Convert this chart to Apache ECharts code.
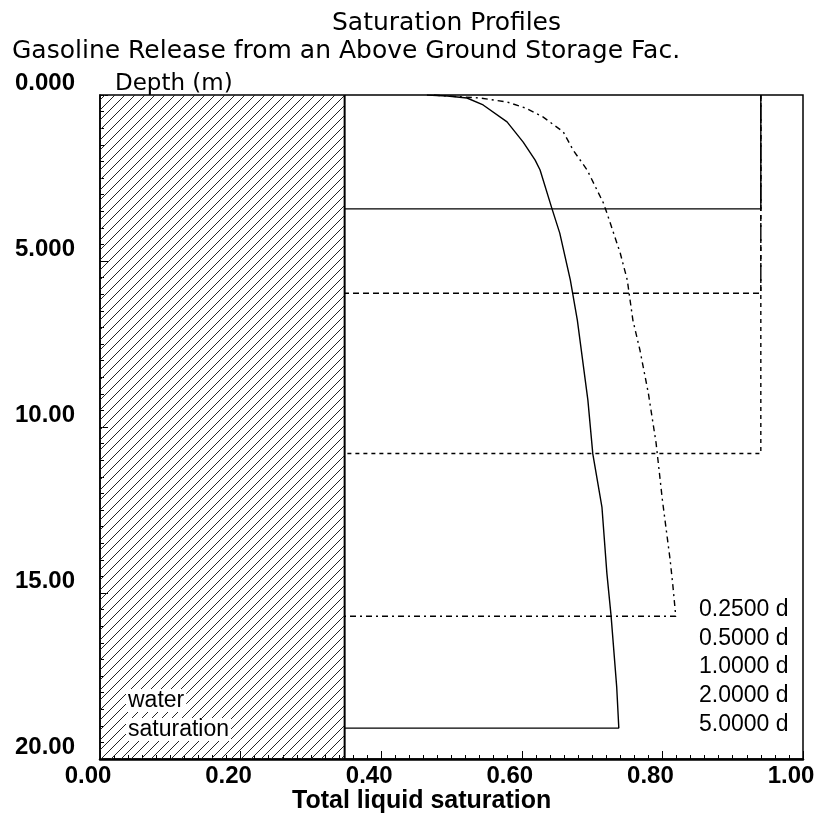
<!DOCTYPE html>
<html>
<head>
<meta charset="utf-8">
<title>Saturation Profiles</title>
<script src="https://cdn.jsdelivr.net/npm/echarts@6/dist/echarts.min.js"></script>
<style>
  html, body { margin: 0; padding: 0; background: #fff; }
  #chart { width: 821px; height: 821px; }
</style>
</head>
<body>
<div id="chart"></div>
<script>
// tick labels as printed on the plot
const xTickLabels = ['0.00', '0.20', '0.40', '0.60', '0.80', '1.00'];
const yTickLabels = ['0.000', '5.000', '10.00', '15.00', '20.00'];

const legendNames = ['0.2500 d', '0.5000 d', '1.0000 d', '2.0000 d', '5.0000 d'];

// residual water saturation (hatched part)
const waterSat = 0.348;

// profiles: total liquid saturation vs depth (m)
const sat025 = [0.94, 0.94, 0.348];
const dep025 = [0, 3.43, 3.43];

const sat050 = [0.94, 0.94, 0.348];
const dep050 = [0, 5.97, 5.97];

const sat100 = [0.94, 0.94, 0.348];
const dep100 = [0, 10.8, 10.8];

const sat200 = [0.475, 0.494, 0.54, 0.579, 0.605, 0.630, 0.659, 0.673, 0.693, 0.716, 0.721, 0.740, 0.750, 0.758, 0.768, 0.780, 0.791, 0.800, 0.811, 0.815, 0.819, 0.348];
const dep200 = [0, 0.03, 0.09, 0.21, 0.39, 0.66, 1.11, 1.66, 2.26, 3.25, 3.55, 4.76, 5.57, 6.78, 7.68, 8.98, 10.48, 12.2, 14.0, 14.8, 15.7, 15.7];

const sat500 = [0.465, 0.494, 0.522, 0.545, 0.579, 0.602, 0.619, 0.626, 0.643, 0.654, 0.669, 0.679, 0.694, 0.701, 0.714, 0.721, 0.727, 0.735, 0.738, 0.348];
const dep500 = [0, 0.03, 0.09, 0.30, 0.81, 1.42, 1.96, 2.26, 3.43, 4.16, 5.57, 6.78, 9.19, 10.81, 12.41, 14.40, 15.69, 17.83, 19.07, 19.07];

const zip = (xs, ys) => xs.map((x, i) => [x, ys[i]]);

// hatch pattern for the water saturation block
const hatch = document.createElement('canvas');
hatch.width = 10;
hatch.height = 10;
const hc = hatch.getContext('2d');
hc.strokeStyle = '#222';
hc.lineWidth = 1;
hc.beginPath();
hc.moveTo(-1, 11);
hc.lineTo(11, -1);
hc.stroke();

const plainFont = 'DejaVu Sans';
const boldFont = 'Liberation Sans';

const myChart = echarts.init(document.getElementById('chart'));

const lineSeries = (name, data, dash) => ({
    name: name,
    type: 'line',
    data: data,
    showSymbol: false,
    symbol: 'none',
    smooth: false,
    silent: true,
    z: 4,
    lineStyle: { color: '#000', width: 1.4, type: dash },
    itemStyle: { color: '#000' }
});

const option = {
    animation: false,
    backgroundColor: '#fff',
    title: [
        { text: 'Saturation Profiles', left: 332, top: 11, padding: 0,
          textStyle: { fontFamily: plainFont, fontSize: 25, fontWeight: 'normal', color: '#000' } },
        { text: 'Gasoline Release from an Above Ground Storage Fac.', left: 12, top: 39, padding: 0,
          textStyle: { fontFamily: plainFont, fontSize: 25, fontWeight: 'normal', color: '#000' } },
        { text: 'Depth (m)', left: 115, top: 73, padding: 0,
          textStyle: { fontFamily: plainFont, fontSize: 23, fontWeight: 'normal', color: '#000' } },
        { text: 'Total liquid saturation', left: 292, top: 789, padding: 0,
          textStyle: { fontFamily: boldFont, fontSize: 25, fontWeight: 'bold', color: '#000' } },
        { text: 'water', left: 126, top: 689, padding: [0, 2], backgroundColor: '#fff', z: 10,
          textStyle: { fontFamily: boldFont, fontSize: 23, fontWeight: 'normal', color: '#000' } },
        { text: 'saturation', left: 126, top: 718, padding: [0, 2], backgroundColor: '#fff', z: 10,
          textStyle: { fontFamily: boldFont, fontSize: 23, fontWeight: 'normal', color: '#000' } }
    ],
    legend: {
        data: legendNames,
        orient: 'vertical',
        left: 689,
        top: 593,
        icon: 'none',
        itemWidth: 0,
        itemHeight: 20,
        itemGap: 5.7,
        selectedMode: false,
        textStyle: { fontFamily: boldFont, fontSize: 23, color: '#000' }
    },
    grid: {
        left: 100,
        right: 18,
        top: 95,
        bottom: 62,
        outerBoundsMode: 'none',
        containLabel: false,
        show: true,
        borderColor: '#000',
        borderWidth: 1.5
    },
    xAxis: {
        type: 'value',
        position: 'bottom',
        min: 0,
        max: 1,
        interval: 0.2,
        axisLine: { show: true, onZero: false, lineStyle: { color: '#000', width: 2.5 } },
        axisTick: { show: true, inside: true, length: 8, lineStyle: { color: '#000' } },
        minorTick: { show: true, splitNumber: 10, length: 4, lineStyle: { color: '#000' } },
        splitLine: { show: false },
        axisLabel: {
            margin: 5,
            padding: [0, 24, 0, 0],
            color: '#000',
            fontFamily: boldFont,
            fontSize: 24,
            fontWeight: 'bold',
            formatter: function (v) {
                return xTickLabels[Math.round(v / 0.2)];
            }
        }
    },
    yAxis: {
        type: 'value',
        position: 'left',
        inverse: true,
        min: 0,
        max: 20,
        interval: 5,
        axisLine: { show: true, onZero: false, lineStyle: { color: '#000', width: 1.5 } },
        axisTick: { show: true, inside: true, length: 8, lineStyle: { color: '#000' } },
        minorTick: { show: true, splitNumber: 10, length: 4, lineStyle: { color: '#000' } },
        splitLine: { show: false },
        axisLabel: {
            margin: 25,
            verticalAlign: 'bottom',
            color: '#000',
            fontFamily: boldFont,
            fontSize: 24,
            fontWeight: 'bold',
            formatter: function (v) {
                return yTickLabels[Math.round(v / 5)];
            }
        }
    },
    series: [
        {
            name: 'water',
            type: 'line',
            data: [[waterSat, 0], [waterSat, 20]],
            showSymbol: false,
            symbol: 'none',
            silent: true,
            z: 3,
            lineStyle: { color: '#000', width: 2 },
            markArea: {
                silent: true,
                itemStyle: {
                    color: { image: hatch, repeat: 'repeat' },
                    borderWidth: 0
                },
                data: [[{ coord: [0, 0] }, { coord: [waterSat, 20] }]]
            }
        },
        lineSeries(legendNames[0], zip(sat025, dep025), 'solid'),
        lineSeries(legendNames[1], zip(sat050, dep050), [6, 4]),
        lineSeries(legendNames[2], zip(sat100, dep100), [4, 4]),
        lineSeries(legendNames[3], zip(sat200, dep200), [6, 4, 2, 4]),
        lineSeries(legendNames[4], zip(sat500, dep500), 'solid')
    ]
};

option && myChart.setOption(option);
window.addEventListener('resize', function () {
    myChart.resize();
});
</script>
</body>
</html>
